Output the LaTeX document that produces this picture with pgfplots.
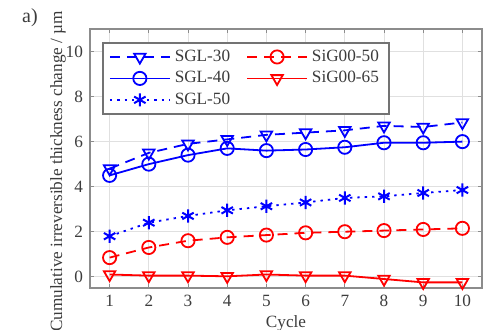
\documentclass[border=0pt]{standalone}
\usepackage{fontspec}
\setmainfont{Liberation Serif}
\usepackage{pgfplots}
\pgfplotsset{compat=1.18}
\definecolor{mblue}{RGB}{0,0,255}
\definecolor{mred}{RGB}{255,0,0}
\definecolor{txt}{RGB}{60,60,60}
\begin{document}
\begin{tikzpicture}
\useasboundingbox (-45pt,-20.5pt) rectangle (197.5pt,144pt);
\begin{axis}[
  scale only axis, width=196pt, height=129.5pt,
  xmin=0.5, xmax=10.5, ymin=-0.5, ymax=11,
  xtick={1,...,10}, ytick={0,2,4,6,8,10},
  /pgf/number format/assume math mode=true,
  font=\fontsize{8.6}{10}\selectfont,
  tick label style={text=txt},
  label style={text=txt},
  axis line style={draw=black!45, line width=0.8pt},
  tick style={draw=black!45, line width=0.5pt},
  major tick length=2pt,
  tick align=inside,
  grid=major,
  major grid style={draw=black!12, line width=0.5pt},
  xlabel={Cycle},
  ylabel={Cumulative irreversible thickness change / µm},
  xlabel style={at={(rel axis cs:0.5,0)}, anchor=center, yshift=-17.5pt},
  ylabel style={at={(rel axis cs:0,0.45)}, anchor=center, yshift=16pt},
  legend columns=2,
  legend cell align=left,
  legend style={at={(0.031,0.95)}, anchor=north west, draw=black!55, line width=0.8pt,
    font=\fontsize{8.6}{10}\selectfont, text=txt, row sep=-0.5pt,
    inner xsep=3pt, inner ysep=1.5pt,
    /tikz/every even column/.append style={column sep=6pt}},
  legend image code/.code={\draw[mark repeat=2,mark phase=2,#1] plot coordinates {(0pt,0pt) (15pt,0pt) (30pt,0pt)};},
  every axis plot/.append style={line width=0.9pt, mark size=3.3pt},
]
\addplot[color=mblue, dash pattern=on 5pt off 3.5pt, mark=triangle, mark options={solid, rotate=180}]
  coordinates {(1,4.8) (2,5.5) (3,5.9) (4,6.1) (5,6.3) (6,6.4) (7,6.5) (8,6.7) (9,6.65) (10,6.85)};
\addlegendentry{SGL-30}
\addplot[color=mred, dash pattern=on 5pt off 3.5pt, mark=o, mark options={solid}]
  coordinates {(1,0.85) (2,1.3) (3,1.6) (4,1.75) (5,1.85) (6,1.95) (7,2.0) (8,2.05) (9,2.1) (10,2.15)};
\addlegendentry{SiG00-50}
\addplot[color=mblue, solid, mark=o]
  coordinates {(1,4.5) (2,5.0) (3,5.4) (4,5.7) (5,5.6) (6,5.65) (7,5.75) (8,5.95) (9,5.95) (10,6.0)};
\addlegendentry{SGL-40}
\addplot[color=mred, solid, mark=triangle, mark options={solid, rotate=180}]
  coordinates {(1,0.1) (2,0.05) (3,0.05) (4,0.02) (5,0.1) (6,0.05) (7,0.05) (8,-0.1) (9,-0.25) (10,-0.25)};
\addlegendentry{SiG00-65}
\addplot[color=mblue, dash pattern=on 1.2pt off 2.5pt, mark=asterisk, mark options={solid, line width=1pt}]
  coordinates {(1,1.8) (2,2.4) (3,2.7) (4,2.95) (5,3.13) (6,3.3) (7,3.5) (8,3.57) (9,3.72) (10,3.85)};
\addlegendentry{SGL-50}
\end{axis}
\node[font=\fontsize{10}{12}\selectfont, text=txt] at (-30pt,135pt) {a)};
\end{tikzpicture}
\end{document}
